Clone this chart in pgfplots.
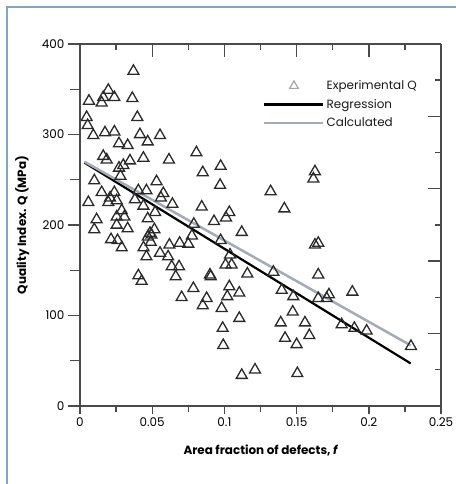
\documentclass[border=0pt]{standalone}
\usepackage{pgfplots}
\pgfplotsset{compat=1.18}
\usepackage{fontspec}
\setmainfont{Poppins}
\definecolor{axgray}{HTML}{4A4A4A}
\definecolor{calc}{HTML}{A4ABB6}
\definecolor{frameblue}{HTML}{7EA6C8}
\definecolor{markc}{HTML}{2A2A2A}
\pgfplotsset{
  lineleg/.style={legend image code/.code={\draw[##1] (0bp,0bp) -- (59bp,0bp);}},
  markleg/.style={legend image code/.code={\draw[mark repeat=2,mark phase=2,##1] plot coordinates {(0bp,0bp) (29.5bp,0bp) (59bp,0bp)};}}
}
\pgfplotstableread{
x y
0.037 370
0.0196 349
0.0161 341
0.0238 341
0.015 335
0.0062 337
0.0362 340
0.0046 319
0.0053 310
0.0397 319
0.0092 299
0.0173 302
0.0238 303
0.0415 300
0.0554 299
0.027 290
0.033 288
0.0469 292
0.0161 276
0.0185 272
0.0439 274
0.0346 271
0.0616 272
0.0806 280
0.030 266
0.027 263
0.028 254
0.0099 249
0.053 248
0.085 258
0.015 236
0.0238 236
0.0208 230
0.0254 227
0.0196 225
0.0058 225
0.0404 238
0.046 238
0.0577 235
0.056 230
0.064 223
0.038 228
0.0439 221
0.052 214
0.0289 216
0.0254 209
0.0307 209
0.0469 207
0.0115 206
0.0254 200
0.033 196
0.0099 195
0.0515 195
0.0485 191
0.0495 189
0.047 187
0.049 181
0.0215 184
0.026 183
0.0289 175
0.044 175
0.046 165
0.0554 169
0.0619 178
0.069 180
0.075 179
0.061 165
0.0635 154
0.0686 154
0.0663 143
0.0404 144
0.0427 138
0.0785 130
0.0704 120
0.0788 201
0.0775 188
0.0974 265
0.097 244
0.1627 259
0.1616 251
0.132 237
0.1415 218
0.0843 220
0.0928 204
0.1011 208
0.1034 214
0.112 192
0.0974 183
0.1039 167
0.1008 156
0.105 156
0.1627 178
0.165 180
0.09 145
0.0905 143
0.1159 146
0.1339 148
0.1650 145
0.0877 119
0.085 111
0.1034 132
0.102 121
0.1103 125
0.0981 108
0.1397 128
0.1477 121
0.1103 97
0.0988 86
0.0992 67
0.1473 104
0.139 92
0.1558 92
0.142 75
0.15 68
0.1588 78
0.112 34
0.1212 40
0.1505 36
0.1724 123
0.165 119
0.1708 119
0.1886 126
0.1812 90
0.19 86
0.1985 83
0.2292 66
}\expdata
\begin{document}
\begin{tikzpicture}[x=1bp,y=1bp]
\path[use as bounding box] (0,0) rectangle (456,484);
\draw[frameblue, line width=1.5bp] (7,-5) -- (7,477) -- (470,477);
\pgfplotsset{every axis/.append style={scale only axis, width=361bp, height=362bp,
  xmin=0, xmax=0.25, ymin=0, ymax=400, at={(80bp,78bp)}, anchor=south west,
  axis line style={axgray, line width=1.5bp, -},
  every tick/.style={axgray, line width=1.4bp}}}
% axis A: data + bottom axis
\begin{axis}[axis x line*=bottom, axis y line=none, tick align=outside,
  clip=false,
  xtick={0,0.05,0.1,0.15,0.2,0.25}, xticklabels={0,0.05,0.1,0.15,0.2,0.25},
  minor xtick={0.025,0.075,0.125,0.175,0.225},
  major tick length=8bp, minor tick length=6bp,
  xticklabel style={font=\fontsize{12}{14}\selectfont, text=black},
  xlabel={\bfseries Area fraction of defects, \itshape f},
  xlabel style={at={(axis description cs:0.5,-0.122)}, anchor=center, font=\fontsize{12}{14}\selectfont},
  legend style={draw=none, fill=none, at={(axis description cs:0.507,0.905)}, anchor=north west,
    font=\fontsize{12}{14}\selectfont, text=black!90, row sep=4bp, inner sep=0pt,
    /tikz/every even column/.append style={column sep=4bp}},
  legend cell align=left]
\addplot[markc, only marks, mark=triangle, mark size=6.3bp, mark options={line width=1.3bp}, forget plot] table[x=x,y=y] {\expdata};
\addplot[black, line width=2.2bp, forget plot] coordinates {(0.003,269) (0.229,47)};
\addplot[calc, line width=2.5bp, forget plot] coordinates {(0.003,270) (0.229,67)};
\addlegendimage{only marks, mark=triangle, mark size=5bp, gray!70, mark options={line width=1.2bp}, markleg}
\addlegendentry{Experimental Q}
\addlegendimage{black, line width=2.2bp, lineleg}
\addlegendentry{Regression}
\addlegendimage{calc, line width=2.5bp, lineleg}
\addlegendentry{Calculated}
\end{axis}
% axis B: left axis
\begin{axis}[axis x line=none, axis y line*=left, tick align=outside,
  ytick={0,100,200,300,400}, yticklabels={0,100,200,300,400},
  minor ytick={50,150,250,350},
  major tick length=12bp, minor tick length=10bp,
  yticklabel style={font=\fontsize{12}{14}\selectfont, text=black},
  ylabel={\bfseries Quality Index. Q (MPa)},
  ylabel style={at={(axis description cs:-0.16,0.5)}, anchor=center, font=\fontsize{12}{14}\selectfont}]
\addplot[draw=none, forget plot] coordinates {(0,0)};
\end{axis}
% axis C: top and right
\begin{axis}[axis x line*=top, axis y line*=right, tick align=inside,
  xtick={0.05,0.1,0.15,0.2}, minor xtick={0.025,0.075,0.125,0.175,0.225},
  ytick={80,160,240,320}, minor ytick={40,120,200,280,360},
  xticklabels={}, yticklabels={}, scaled ticks=false,
  xticklabel style={opacity=0}, yticklabel style={opacity=0},
  major tick length=13bp, minor tick length=6.5bp]
\addplot[draw=none, forget plot] coordinates {(0,0)};
\end{axis}
\end{tikzpicture}
\end{document}
